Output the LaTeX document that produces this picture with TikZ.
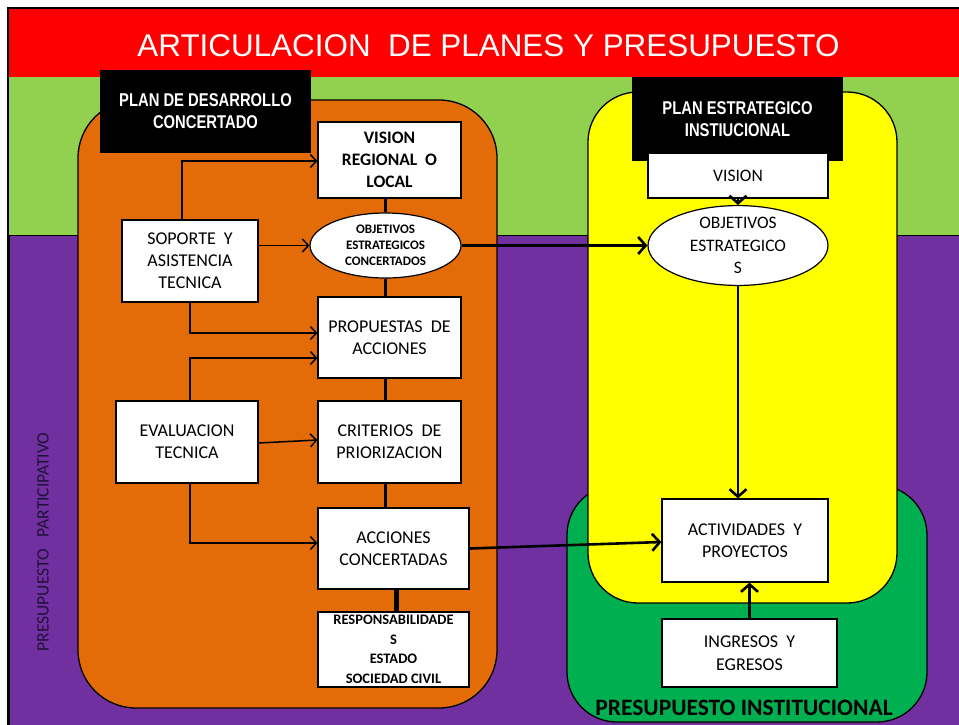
\documentclass[tikz,border=0pt]{standalone}
\usepackage{fontspec}
\setmainfont{Liberation Sans}
\newfontfamily\carl{Carlito}
\newfontfamily\narrowsans[FakeStretch=0.8]{Liberation Sans}
\usetikzlibrary{arrows.meta,shapes.geometric}
\definecolor{redband}{HTML}{FF0000}
\definecolor{greenband}{HTML}{92D050}
\definecolor{purpleband}{HTML}{7030A0}
\definecolor{orangebox}{HTML}{E36C09}
\definecolor{yellowbox}{HTML}{FFFF00}
\definecolor{greenbox}{HTML}{00B050}
\definecolor{vtext}{HTML}{22103A}
\tikzset{
  wbox/.style={draw=black, line width=1.2pt, fill=white, inner sep=0pt, align=center, text=black, font={\carl\fontsize{18}{22}\selectfont}},
  pellipse/.style={ellipse, draw=black, line width=1.2pt, fill=white, inner sep=0pt, align=center, text=black},
  blackbox/.style={fill=black, inner sep=0pt, align=center, text=white, font={\narrowsans\bfseries\fontsize{18.5}{22}\selectfont}},
  conn/.style={line width=1.5pt, -{Straight Barb[length=6pt,width=13pt,line width=1.5pt]}},
  thickconn/.style={line width=2.6pt, -{Straight Barb[length=7.5pt,width=17pt,line width=2.6pt]}},
  spine/.style={line width=3pt},
  panel/.style={draw=black, line width=1.3pt}
}
\begin{document}
\begin{tikzpicture}[x=1pt,y=-1pt]
\useasboundingbox (0,0) rectangle (959,724);
\fill[white] (0,0) rectangle (959,724);
% bands
\fill[redband] (9,9) rectangle (962,77);
\fill[greenband] (9,77) rectangle (962,235);
\filldraw[fill=purpleband, draw=black, line width=0.8pt] (9,235) rectangle (965,730);
\draw[black, line width=1.6pt] (8,8) rectangle (966,731);
\node[text=white, font={\fontsize{31.4}{36}\selectfont}] (title) at (488.5,46) {ARTICULACION\ \ DE PLANES Y PRESUPUESTO};
% panels
\filldraw[panel, fill=orangebox, rounded corners=58pt] (78,100) rectangle (497,708);
\filldraw[panel, fill=greenbox, rounded corners=50pt] (567,485) rectangle (927,722);
\filldraw[panel, fill=yellowbox, rounded corners=50pt] (588,92) rectangle (897,603);
% black headers
\node[blackbox, minimum width=211pt, minimum height=83pt] (pdc) at (205.5,111.5) {PLAN DE DESARROLLO\\CONCERTADO};
\node[blackbox, minimum width=211pt, minimum height=84pt] (pei) at (737.5,119) {PLAN ESTRATEGICO\\INSTIUCIONAL};
% left column boxes
\node[wbox, font={\carl\bfseries\fontsize{17.5}{22}\selectfont}, minimum width=143pt, minimum height=76pt] (vis) at (389.5,160) {VISION\\REGIONAL\ \ O\\LOCAL};
\node[pellipse, minimum width=151pt, minimum height=65pt, font={\carl\bfseries\fontsize{13}{16}\selectfont}] (obl) at (385.5,245.5) {OBJETIVOS\\ESTRATEGICOS\\CONCERTADOS};
\node[wbox, minimum width=136pt, minimum height=82pt] (sop) at (190,261) {SOPORTE\ \ Y\\ASISTENCIA\\TECNICA};
\node[wbox, minimum width=143pt, minimum height=81pt] (prop) at (389.5,337.5) {PROPUESTAS\ \ DE\\ACCIONES};
\node[wbox, minimum width=142pt, minimum height=82pt] (eval) at (187,442) {EVALUACION\\TECNICA};
\node[wbox, minimum width=143pt, minimum height=82pt] (crit) at (389.5,442) {CRITERIOS\ \ DE\\PRIORIZACION};
\node[wbox, minimum width=151pt, minimum height=81pt] (acc) at (393.5,548.5) {ACCIONES\\CONCERTADAS};
\node[wbox, font={\carl\bfseries\fontsize{14.5}{19.5}\selectfont}, minimum width=151pt, minimum height=75pt] (resp) at (393.5,649.5) {RESPONSABILIDADE\\S\\ESTADO\\SOCIEDAD CIVIL};
% right column boxes
\node[wbox, font={\carl\fontsize{17.5}{22}\selectfont}, minimum width=180pt, minimum height=45pt] (vr) at (738,175.5) {VISION};
\node[pellipse, minimum width=180pt, minimum height=65pt, font={\carl\fontsize{17.5}{22.5}\selectfont}] (obr) at (738,245.5) {OBJETIVOS\\ESTRATEGICO\\S};
\node[wbox, minimum width=166pt, minimum height=83pt] (act) at (745,540.5) {ACTIVIDADES\ \ Y\\PROYECTOS};
\node[wbox, font={\carl\fontsize{18}{22.5}\selectfont}, minimum width=175pt, minimum height=68pt] (ing) at (749.5,653) {INGRESOS\ \ Y\\EGRESOS};
% labels
\node[text=vtext, rotate=90, font={\carl\fontsize{17.5}{20}\selectfont}] (pp) at (43,542) {PRESUPUESTO\ \ \ PARTICIPATIVO};
\node[text=black, font={\carl\bfseries\fontsize{23.5}{26}\selectfont}] (pi) at (744,708) {PRESUPUESTO INSTITUCIONAL};
% spine
\draw[spine] (vis.south -| obl.north) -- (obl.north);
\draw[spine] (obl.south) -- (obl.south |- prop.north);
\draw[spine] (obl.south |- prop.south) -- (obl.south |- crit.north);
\draw[spine] (obl.south |- crit.south) -- (obl.south |- acc.north);
\draw[line width=5pt] ([xshift=2.5pt]acc.south) -- ([xshift=2.5pt]acc.south |- resp.north);
% thin connectors
\draw[conn] ([xshift=-8pt]sop.north) |- ([yshift=-1pt]vis.west);
\draw[conn] (sop.east |- obl.west) -- (obl.west);
\draw[conn] (sop.south) |- ([yshift=4.5pt]prop.west);
\draw[conn] ([xshift=3pt]eval.north) |- ([yshift=-20.5pt]prop.west);
\draw[conn] ([yshift=-1pt]eval.east) -- ([yshift=2pt]crit.west);
\draw[conn] ([xshift=3pt]eval.south) |- ([yshift=5.5pt]acc.west);
% thick connectors
\draw[thickconn] (obl.east) -- (obr.west);
\draw[thickconn] (vr.south) -- (obr.north);
\draw[thickconn] (obr.south) -- (obr.south |- act.north);
\draw[thickconn] (acc.east) -- ([yshift=-1.5pt]act.west);
\draw[thickconn] (ing.north) -- (ing.north |- act.south);
\end{tikzpicture}
\end{document}
